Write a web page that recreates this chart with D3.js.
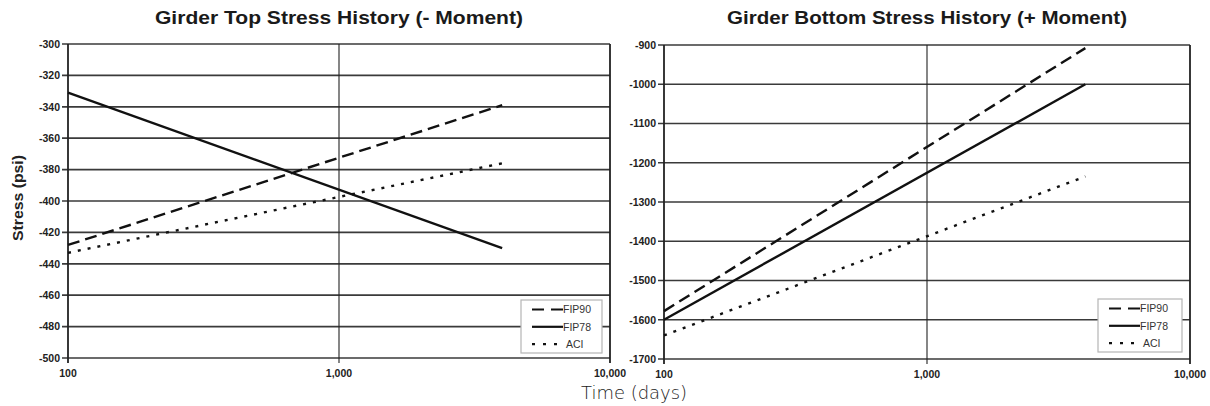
<!DOCTYPE html>
<html>
<head>
<meta charset="utf-8">
<script src="https://cdn.jsdelivr.net/npm/d3@7"></script>
<style>
    body { margin: 0; background: #fff; }
    svg { display: block; font-family: "Liberation Sans", Arial, sans-serif; }
    .grid line { stroke: #3a3a3a; stroke-width: 1.7; }
    .vgrid line { stroke: #222; }
    .tick-label { font-size: 10.5px; font-weight: bold; fill: #222; }
    .title { font-size: 18px; font-weight: bold; fill: #1a1a1a; }
    .legend text { font-size: 10.5px; fill: #333; }
</style>
</head>
<body>
<script>
// time axis (days)
const days = [100, 4000];
const xTicks = [100, 1000, 10000];

// girder top stress, psi
const topFip90 = [-428, -339];
const topFip78 = [-331, -430];
const topAci = [-433, -376];
const topTicks = [-300, -320, -340, -360, -380, -400, -420, -440, -460, -480, -500];

// girder bottom stress, psi
const bottomFip90 = [-1578, -908];
const bottomFip78 = [-1600, -1000];
const bottomAci = [-1640, -1235];
const bottomTicks = [-900, -1000, -1100, -1200, -1300, -1400, -1500, -1600, -1700];

const seriesNames = ['FIP90', 'FIP78', 'ACI'];
const dashes = {FIP90: '12,6', FIP78: null, ACI: '3,7'};
const legendDashes = {FIP90: '12,7', FIP78: null, ACI: '3,8'};

const width = 1210, height = 406;
const svg = d3.select('body').append('svg')
    .attr('width', width)
    .attr('height', height);

const fmt = d3.format(',');

function panel(opts) {
    const g = svg.append('g').attr('class', 'panel');
    const x = d3.scaleLog().domain([100, 10000]).range([opts.left, opts.right]);
    const y = d3.scaleLinear().domain(opts.yDomain).range([opts.bottom, opts.top]);

    // horizontal grid (with ticks poking out left)
    g.append('g').attr('class', 'grid')
        .selectAll('line')
        .data(opts.yTicks)
        .enter().append('line')
        .attr('x1', opts.left - 6).attr('x2', opts.right)
        .attr('y1', d => y(d)).attr('y2', d => y(d));

    // vertical grid + frame
    g.append('g').attr('class', 'vgrid')
        .selectAll('line')
        .data(xTicks)
        .enter().append('line')
        .attr('x1', d => x(d)).attr('x2', d => x(d))
        .attr('y1', opts.top).attr('y2', opts.bottom + 5)
        .style('stroke-width', (d, i) => i === 1 ? 1.1 : 1.8);

    // y tick labels
    g.selectAll('.ylab')
        .data(opts.yTicks)
        .enter().append('text')
        .attr('class', 'tick-label')
        .attr('x', opts.left - 8)
        .attr('y', d => y(d) + 3.8)
        .attr('text-anchor', 'end')
        .text(d => d);

    // x tick labels
    g.selectAll('.xlab')
        .data(xTicks)
        .enter().append('text')
        .attr('class', 'tick-label')
        .attr('x', d => x(d))
        .attr('y', opts.bottom + 19)
        .attr('text-anchor', 'middle')
        .text(d => fmt(d));

    // title
    g.append('text').attr('class', 'title')
        .attr('x', (opts.left + opts.right) / 2)
        .attr('y', 24)
        .attr('text-anchor', 'middle')
        .attr('textLength', opts.titleW)
        .attr('lengthAdjust', 'spacingAndGlyphs')
        .text(opts.title);

    // series
    const line = d3.line()
        .x(d => x(d[0]))
        .y(d => y(d[1]));
    opts.series.forEach(s => {
        g.append('path')
            .attr('d', line(s.days.map((d, i) => [d, s.values[i]])))
            .attr('fill', 'none')
            .attr('stroke', '#111')
            .attr('stroke-width', 2.4)
            .attr('stroke-dasharray', dashes[s.name]);
    });

    // legend
    const lg = g.append('g').attr('class', 'legend')
        .attr('transform', `translate(${opts.legendX},${opts.legendY})`);
    lg.append('rect')
        .attr('width', opts.legendW).attr('height', 53)
        .attr('fill', '#fff')
        .attr('stroke', '#b5b5b5')
        .attr('stroke-width', 1.2);
    seriesNames.forEach((n, i) => {
        const ly = 9.5 + i * 17.3;
        lg.append('line')
            .attr('x1', 11).attr('x2', 42)
            .attr('y1', ly).attr('y2', ly)
            .attr('stroke', '#111')
            .attr('stroke-width', 2.2)
            .attr('stroke-dasharray', legendDashes[n]);
        lg.append('text')
            .attr('x', n === 'ACI' ? 45 : 42)
            .attr('y', ly + 3.8)
            .text(n);
    });
}

panel({
    left: 68, right: 610, top: 44, bottom: 358,
    yDomain: [-500, -300], yTicks: topTicks,
    title: 'Girder Top Stress History (- Moment)', titleW: 368,
    series: [
        {name: 'FIP90', days: days, values: topFip90},
        {name: 'FIP78', days: days, values: topFip78},
        {name: 'ACI', days: days, values: topAci}
    ],
    legendX: 521, legendY: 300, legendW: 81
});

panel({
    left: 664, right: 1190, top: 45, bottom: 359,
    yDomain: [-1700, -900], yTicks: bottomTicks,
    title: 'Girder Bottom Stress History (+ Moment)', titleW: 400,
    series: [
        {name: 'FIP90', days: days, values: bottomFip90},
        {name: 'FIP78', days: days, values: bottomFip78},
        {name: 'ACI', days: days, values: bottomAci}
    ],
    legendX: 1098, legendY: 299, legendW: 84
});

// axis titles
svg.append('text')
    .attr('transform', 'translate(23,198) rotate(-90)')
    .attr('text-anchor', 'middle')
    .attr('textLength', 86)
    .attr('lengthAdjust', 'spacingAndGlyphs')
    .style('font-size', '15px')
    .style('font-weight', 'bold')
    .style('fill', '#222')
    .text('Stress (psi)');

svg.append('text')
    .attr('x', 634)
    .attr('y', 399)
    .attr('text-anchor', 'middle')
    .attr('textLength', 106)
    .attr('lengthAdjust', 'spacingAndGlyphs')
    .style('font-family', '"DejaVu Sans", sans-serif')
    .style('font-size', '18px')
    .style('font-weight', 300)
    .style('fill', '#222')
    .text('Time (days)');
</script>
</body>
</html>
